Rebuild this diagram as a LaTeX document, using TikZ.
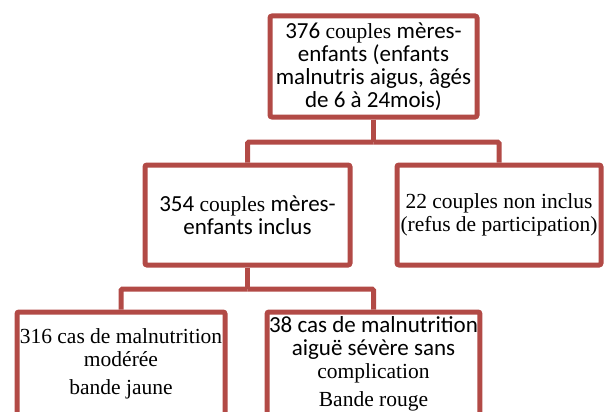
\documentclass[tikz,border=0pt]{standalone}
\usepackage{fontspec}
\setmainfont{Liberation Serif}
\newfontfamily\calib[Scale=1.07]{Carlito}
\usetikzlibrary{positioning, calc}
\definecolor{boxred}{RGB}{178, 74, 70}

\tikzset{
  flowbox/.style={draw=boxred, line width=5pt, rounded corners=2pt, fill=white,
    align=center, inner sep=2pt, font=\fontsize{21.5}{23}\selectfont},
  link/.style={draw=boxred, line width=5pt, rounded corners=1.5pt}
}

\begin{document}
\begin{tikzpicture}[x=1pt, y=-1pt]
  \useasboundingbox (0,0) rectangle (605,412);
  \clip (0,0) rectangle (605,412);

  % ===== niveau 1 =====
  \node[flowbox, minimum width=207pt, minimum height=101pt] (total) at (373.5, 66.5)
    {{\calib 376} couples {\calib mères-}\\
     {\calib enfants (enfants}\\
     {\calib malnutris aigus, âgés}\\
     {\calib de 6 à 24mois)}};

  % ===== niveau 2 =====
  \node[flowbox, minimum width=205pt, minimum height=100pt] (inclus) at (247.5, 215)
    {{\calib 354} couples {\calib mères-}\\
     {\calib enfants inclus}};
  \node[flowbox, minimum width=204pt, minimum height=100pt] (noninclus) at (499, 215)
    {22 couples non inclus\\(refus de participation)};

  % ===== niveau 3 =====
  \node[flowbox, minimum width=208pt, minimum height=104pt] (modere) at (121, 364)
    {316 cas de malnutrition\\modérée\\[5pt]bande jaune};
  \node[flowbox, minimum width=207pt, minimum height=104pt] (severe) at (373.5, 364)
    {{\calib 38 cas de malnutrition}\\
     {\calib aiguë sévère sans}\\
     complication\\[5pt]Bande rouge};

  % liaisons
  \coordinate (split1) at (373.5, 142);
  \coordinate (split2) at (247.5, 289);
  \draw[link] (total.south) -- (split1);
  \draw[link] (split1) -| (inclus.north);
  \draw[link] (split1) -| (noninclus.north);
  \draw[link] (inclus.south) -- (split2);
  \draw[link] (split2) -| (modere.north);
  \draw[link] (split2) -| (severe.north);
\end{tikzpicture}
\end{document}
